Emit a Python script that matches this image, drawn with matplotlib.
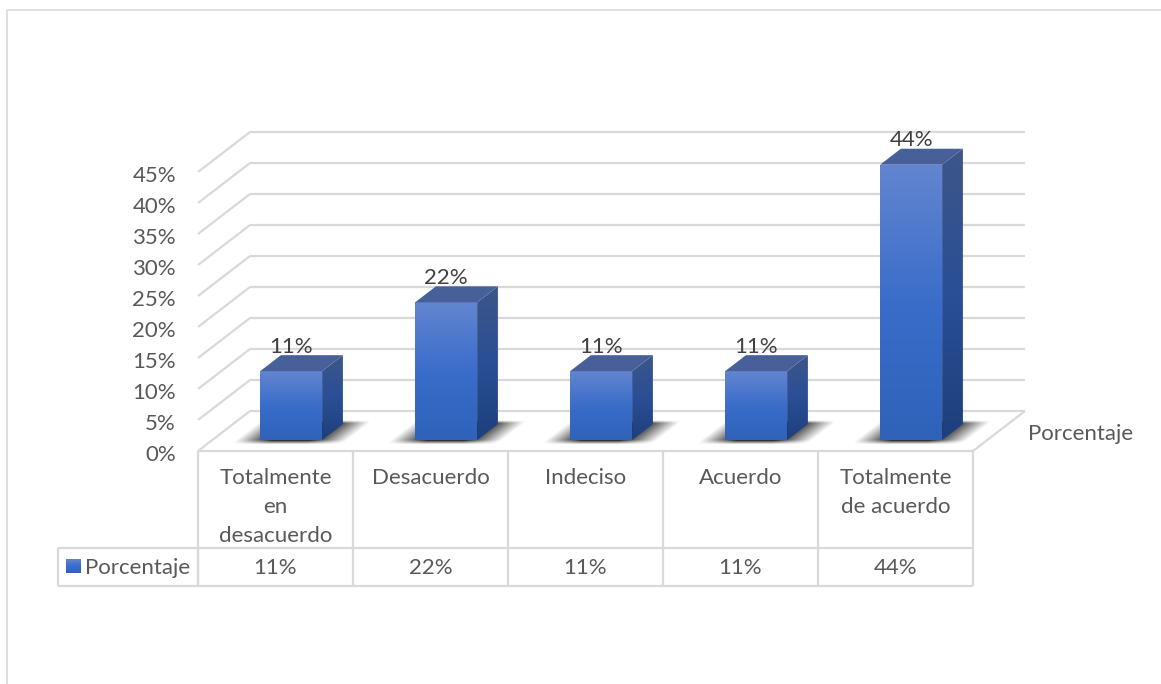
import numpy as np
import matplotlib
matplotlib.use('Agg')
import matplotlib.pyplot as plt
from matplotlib.colors import LinearSegmentedColormap
from matplotlib.patches import Polygon, Rectangle

categories = [['Totalmente', 'en', 'desacuerdo'], ['Desacuerdo'], ['Indeciso'], ['Acuerdo'],
              ['Totalmente', 'de acuerdo']]
values = [11.1, 22.2, 11.1, 11.1, 44.4]
value_labels = ['11%', '22%', '11%', '11%', '44%']
yticks = [0, 5, 10, 15, 20, 25, 30, 35, 40, 45]
series = 'Porcentaje'

W, H = 1161, 684
X0, Y0 = 198, 451      # pixel of category 0, 0%
PX_X, PX_Y = 155, 6.2  # pixels per category, per percent
DEPTH_X = 52 / PX_X
DEPTH_Y = 40 / PX_Y

grid = '#d9d9d9'
text = '#595959'
plt.rcParams['font.family'] = ['Lato', 'DejaVu Sans']
fs = 16
TXT_DY = 2.5 / PX_Y  # lato sits a bit high with va=center

fig = plt.figure(figsize=(W / 100, H / 100), dpi=100)
ax = fig.add_axes([0, 0, 1, 1])
ax.axis('off')


def proj(x, v, d=0.0):
    return x + d * DEPTH_X, v + d * DEPTH_Y


def line(xs, ys, lw=1.6, z=1):
    ax.plot(xs, ys, color=grid, lw=lw, solid_capstyle='butt', zorder=z)


def ramp(a):
    return np.clip(a, 0, 1)


n = len(values)

# walls and floor
for t in yticks:
    x1, y1 = proj(0, t, 1)
    x2, y2 = proj(n, t, 1)
    line([x1, x2], [y1, y2])
    line([0, x1], [t, y1])
    ax.text(-22 / PX_X, t - 1.6 * TXT_DY, f'{t}%', ha='right', va='center', color=text, fontsize=fs)
x2, y2 = proj(n, 0, 1)
line([n, x2], [0, y2])

# table below the chart
row1 = -97 / PX_Y
row2 = -135 / PX_Y
left = -140 / PX_X
for i in range(n + 1):
    line([i, i], [0, row2])
line([0, n], [0, 0])
line([left, n], [row1, row1])
line([left, n], [row2, row2])
line([left, left], [row1, row2])
line([0, 0], [row1, row2])

cm_front = LinearSegmentedColormap.from_list('f', ['#6385d0', '#3a6dca', '#2f62b8'])
cm_side = LinearSegmentedColormap.from_list('s', ['#3c5688', '#2a4f96', '#1e3f7c'])
grad = np.linspace(0, 1, 128).reshape(-1, 1)

bw = 0.4
d1, d2 = 0.3, 0.7
base = -1 / PX_Y
for i, v in enumerate(values):
    xl = i + 0.5 - bw / 2
    xr = i + 0.5 + bw / 2

    # soft shadow on the floor, faded out around the bar base
    ex = [xl - 0.3, xr + 0.55, 0.05, 1.05 * DEPTH_Y]
    gx, gy = np.meshgrid(np.linspace(ex[0], ex[1], 240), np.linspace(ex[2], ex[3], 60))
    gd = gy / DEPTH_Y
    gu = gx - gd * DEPTH_X
    fade_x = ramp((gu - (xl - 0.15)) / 0.24) * ramp(((xr + 0.17) - gu) / 0.24)
    fade_d = ramp((gd - (d1 - 0.13)) / 0.11) * ramp(((d2 + 0.07) - gd) / 0.07)
    rgba = np.zeros(gx.shape + (4,))
    rgba[..., 3] = 0.95 * fade_x * fade_d
    ax.imshow(rgba, extent=[ex[0], ex[1], ex[2], ex[3]], origin='lower', aspect='auto',
              zorder=2, interpolation='bilinear')

    # front
    fx, fy = proj(xl, base, d1)
    fxr, fyt = proj(xr, base + v, d1)
    im = ax.imshow(grad, cmap=cm_front, extent=[fx, fxr, fy, fyt], aspect='auto',
                   origin='upper', zorder=4, interpolation='bilinear')
    clip = Rectangle((fx, fy), fxr - fx, fyt - fy, transform=ax.transData)
    im.set_clip_path(clip)

    # side
    bx, by = proj(xr, base, d2)
    bxt, byt = proj(xr, base + v, d2)
    side = Polygon([(fxr, fy), (bx, by), (bxt, byt), (fxr, fyt)], closed=True,
                   transform=ax.transData, fc='none', ec='none')
    im2 = ax.imshow(grad, cmap=cm_side, extent=[fxr, bx, fy, byt], aspect='auto',
                    origin='upper', zorder=4, interpolation='bilinear')
    im2.set_clip_path(side)

    # top
    ax.add_patch(Polygon([proj(xl, base + v, d1), proj(xr, base + v, d1),
                          proj(xr, base + v, d2), proj(xl, base + v, d2)],
                         closed=True, fc='#47609a', ec='none', zorder=4))

    # data label sits over the bar top
    ax.text(i + 0.5 + d1 * DEPTH_X, v + base + 39 / PX_Y - TXT_DY,
            value_labels[i], ha='center', va='center', color='#404040', fontsize=fs, zorder=5)

    # table texts
    for j, part in enumerate(categories[i]):
        ax.text(i + 0.5, -(25 + 28.7 * j) / PX_Y - TXT_DY, part, ha='center', va='center',
                color=text, fontsize=fs)
    ax.text(i + 0.5, -115 / PX_Y - TXT_DY, value_labels[i], ha='center', va='center',
            color=text, fontsize=fs)

# legend key and series names
key = ax.imshow(grad, cmap=cm_front, extent=[-132 / PX_X, -117 / PX_X, -122 / PX_Y, -108 / PX_Y],
                aspect='auto', origin='upper', zorder=4)
ax.text(-113 / PX_X, -115 / PX_Y - TXT_DY, series, ha='left', va='center', color=text, fontsize=fs)
ax.text(830 / PX_X, 19 / PX_Y - TXT_DY, series, ha='left', va='center', color=text, fontsize=fs)

ax.set_xlim(-X0 / PX_X, (W - X0) / PX_X)
ax.set_ylim((Y0 - H) / PX_Y, Y0 / PX_Y)

# chart area frame
fig.add_artist(plt.Line2D([7 / W, 7 / W, 1], [0, 1 - 10 / H, 1 - 10 / H],
                          color=grid, lw=1.2))

fig.savefig('out.png', dpi=100)
